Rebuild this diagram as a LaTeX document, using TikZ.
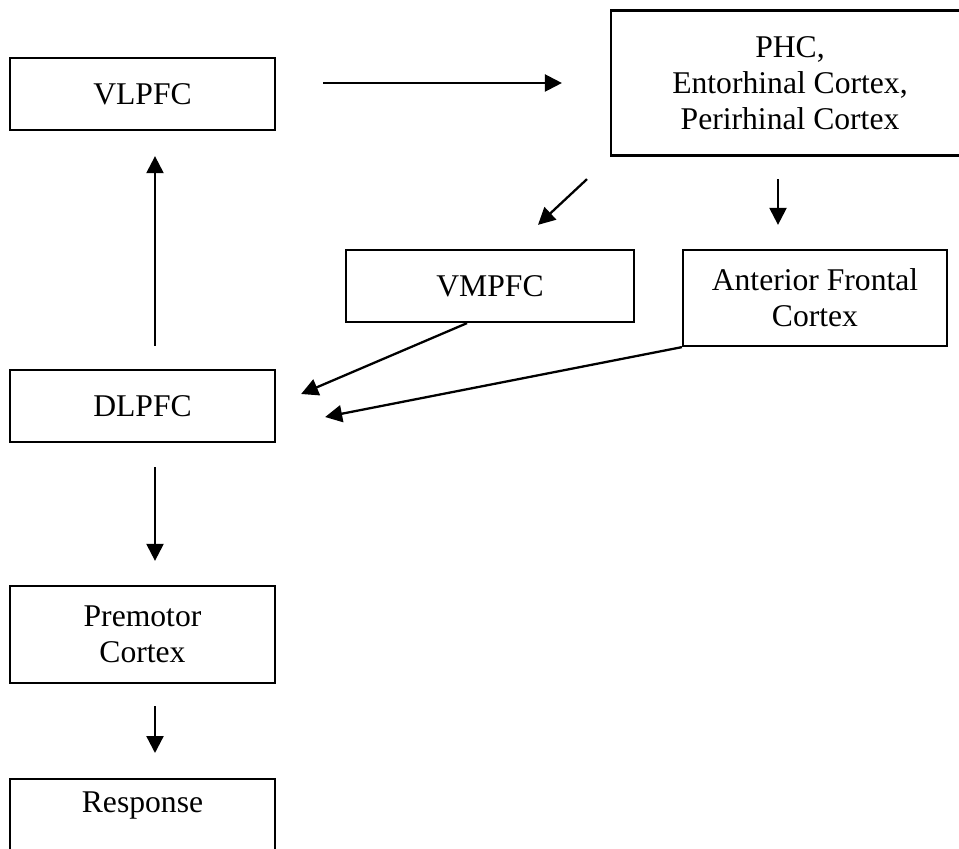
\documentclass[tikz,border=0pt]{standalone}
\usepackage{fontspec}
\setmainfont{Liberation Serif}
\usetikzlibrary{arrows.meta,calc}
\tikzset{
  rect/.style={draw, line width=1.3pt, inner sep=0pt, align=center,
    minimum width=5.3cm, minimum height=1.44cm,
    font=\fontsize{18pt}{20.5pt}\selectfont},
  link/.style={draw, line width=1.3pt, -{Triangle[length=0.34cm, width=0.34cm]}}
}

\begin{document}
\begin{tikzpicture}[x=0.02cm, y=-0.02cm]
  \clip (0,0) rectangle (959,848);

  \node[rect] at (142.5,94) (vlpfc) {VLPFC};
  \node[rect, minimum width=7.16cm, minimum height=2.9cm] at (790,83) (phc) {PHC,\\ Entorhinal Cortex,\\ Perirhinal Cortex};
  \node[rect, minimum width=5.76cm] at (490,286) (vmpfc) {VMPFC};
  \node[rect, minimum width=5.28cm, minimum height=1.92cm] at (815,298) (afc) {Anterior Frontal\\ Cortex};
  \node[rect] at (142.5,406) (dlpfc) {DLPFC};
  \node[rect, minimum height=1.94cm] at (142.5,634.5) (premotor) {Premotor\\ Cortex};
  \node[rect, anchor=north, text height=0.67cm, text depth=1cm] at (142.5,778) (response) {Response};

  \path[link] ($(vlpfc.east)+(47,-11)$) -- ($(phc.west)+(-48,0)$);
  \path[link] ($(dlpfc.north)+(12.5,-23)$) -- ($(vlpfc.south)+(12.5,25)$);
  \path[link] ($(phc.south)+(-203,22.5)$) -- ($(vmpfc.north)+(48,-24)$);
  \path[link] ($(phc.south)+(-12,22.5)$) -- ($(afc.north)+(-37,-24)$);
  \path[link] ($(vmpfc.south)+(-23,0)$) -- ($(dlpfc.east)+(25,-12)$);
  \path[link] (afc.south west) -- ($(dlpfc.east)+(49,11)$);
  \path[link] ($(dlpfc.south)+(12.5,24)$) -- ($(premotor.north)+(12.5,-24)$);
  \path[link] ($(premotor.south)+(12.5,22)$) -- ($(response.north)+(12.5,-25)$);

\end{tikzpicture}
\end{document}
